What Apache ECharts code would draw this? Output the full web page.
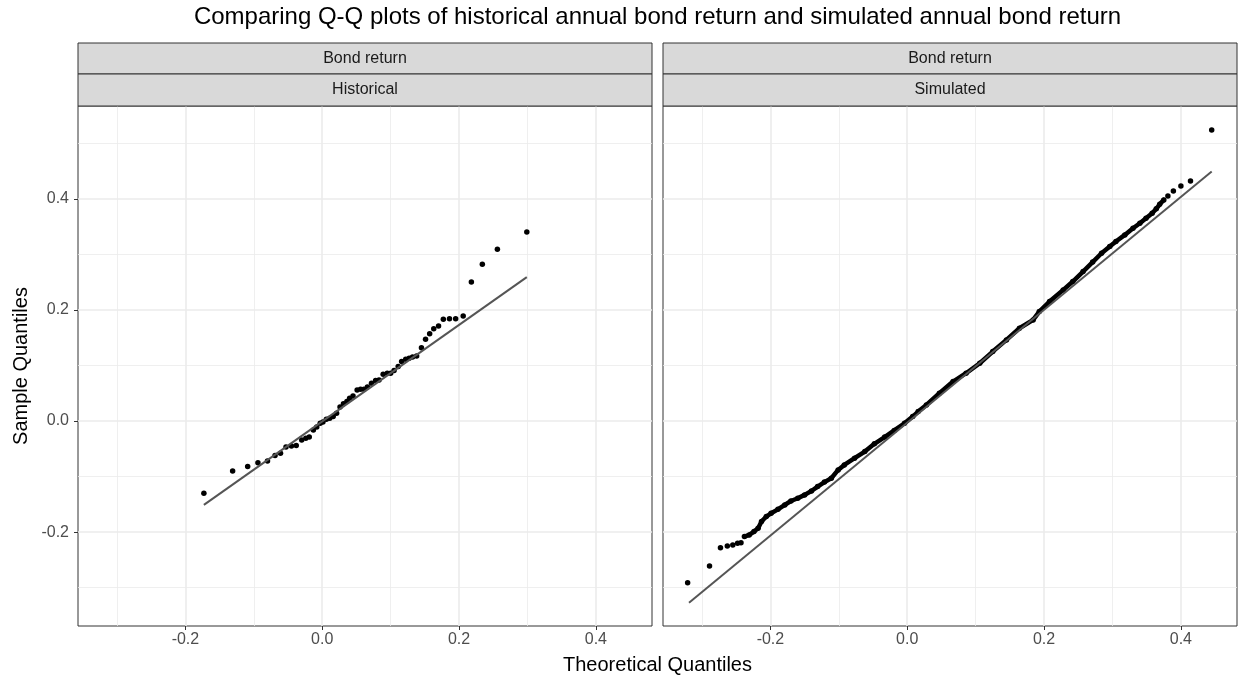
<!DOCTYPE html>
<html>
<head>
<meta charset="utf-8">
<script src="https://cdn.jsdelivr.net/npm/echarts@6/dist/echarts.min.js"></script>
<style>
html,body{margin:0;padding:0;background:#fff;}
#chart{width:1238px;height:677px;}
</style>
</head>
<body>
<div id="chart"></div>
<script>
// ---------------- data ----------------
const panelNames = ['Historical', 'Simulated'];
const stripTop = 'Bond return';
const chartTitle = 'Comparing Q-Q plots of historical annual bond return and simulated annual bond return';
const xTitle = 'Theoretical Quantiles';
const yTitle = 'Sample Quantiles';

const xTicks = [-0.2, 0.0, 0.2, 0.4];
const yTicks = [-0.2, 0.0, 0.2, 0.4];
const xMinor = [-0.3, -0.1, 0.1, 0.3];
const yMinor = [-0.3, -0.1, 0.1, 0.3, 0.5];
const xRange = [-0.357, 0.482];
const yRange = [-0.369, 0.567];

const histX = [-0.173,-0.131,-0.109,-0.094,-0.080,-0.069,-0.061,-0.053,-0.045,-0.038,
  -0.030,-0.024,-0.019,-0.013,-0.008,-0.003,0.001,0.006,0.011,0.016,
  0.021,0.026,0.031,0.036,0.040,0.045,0.051,0.056,0.061,0.066,
  0.072,0.078,0.083,0.089,0.095,0.100,0.105,0.111,0.116,0.122,
  0.127,0.132,0.138,0.145,0.151,0.157,0.163,0.170,0.177,0.186,
  0.195,0.206,0.218,0.234,0.256,0.299];
const histY = [-0.130,-0.090,-0.082,-0.075,-0.072,-0.062,-0.058,-0.047,-0.045,-0.044,
  -0.034,-0.031,-0.029,-0.016,-0.011,-0.004,-0.002,0.003,0.005,0.008,
  0.014,0.025,0.031,0.035,0.041,0.045,0.056,0.057,0.057,0.061,
  0.068,0.073,0.074,0.084,0.086,0.086,0.091,0.098,0.107,0.111,
  0.113,0.115,0.117,0.132,0.147,0.157,0.166,0.171,0.183,0.184,
  0.184,0.189,0.250,0.282,0.309,0.340];
const histLineX = [-0.173, 0.299];
const histLineY = [-0.151, 0.259];

const simX = [-0.321,-0.289,-0.273,-0.263,-0.255,-0.248,-0.243,-0.238,-0.231,-0.224,
  -0.218,-0.213,-0.206,-0.199,-0.189,-0.179,-0.170,-0.160,-0.150,-0.140,
  -0.131,-0.121,-0.111,-0.101,-0.092,-0.077,-0.062,-0.048,-0.033,-0.019,
  -0.004,0.008,0.016,0.028,0.047,0.067,0.086,0.106,0.125,0.145,
  0.164,0.184,0.193,0.208,0.228,0.242,0.257,0.271,0.284,0.296,
  0.305,0.318,0.330,0.340,0.349,0.358,0.364,0.369,0.375,0.381,
  0.389,0.400,0.414,0.445];
const simY = [-0.291,-0.261,-0.228,-0.225,-0.223,-0.220,-0.219,-0.208,-0.205,-0.199,
  -0.193,-0.181,-0.172,-0.166,-0.159,-0.151,-0.144,-0.139,-0.133,-0.126,
  -0.118,-0.110,-0.103,-0.088,-0.079,-0.067,-0.055,-0.041,-0.029,-0.017,
  -0.004,0.008,0.017,0.029,0.050,0.071,0.086,0.104,0.125,0.146,
  0.167,0.182,0.197,0.215,0.236,0.251,0.269,0.286,0.302,0.314,
  0.323,0.335,0.347,0.356,0.365,0.374,0.382,0.390,0.398,0.405,
  0.414,0.423,0.432,0.524];
const simLineX = [-0.319, 0.445];
const simLineY = [-0.327, 0.449];
// range of theoretical quantiles where the simulated points overlap into a solid band
const simBandRange = [-0.238, 0.375];

// ---------------- layout ----------------
const FONT = '"Liberation Sans", Arial, sans-serif';
const G = [
  {left: 78, top: 106, width: 574, height: 520},
  {left: 663, top: 106, width: 574, height: 520}
];
const zip = (a, b) => a.map((v, i) => [v, b[i]]);

const grids = G.map(g => ({
  left: g.left, top: g.top, width: g.width, height: g.height,
  show: true, borderColor: '#333333', borderWidth: 1, backgroundColor: '#ffffff', z: 0
}));

const fmt = v => (Math.abs(v) < 1e-9 ? 0 : v).toFixed(1);
const isTick = (v, ticks) => ticks.some(t => Math.abs(t - v) < 1e-6);

const xAxes = G.map((g, i) => ({
  type: 'value', gridIndex: i, min: xRange[0], max: xRange[1], splitNumber: 4,
  axisLine: {show: false, onZero: false},
  axisTick: {show: true, length: 4, customValues: xTicks, lineStyle: {color: '#333333', width: 1}},
  axisLabel: {show: true, margin: 6, customValues: xTicks, color: '#4d4d4d', fontSize: 16, fontFamily: FONT,
    formatter: v => isTick(v, xTicks) ? fmt(v) : ''},
  splitLine: {show: true, lineStyle: {color: '#ebebeb', width: 1.6}}
}));
const yAxes = G.map((g, i) => ({
  type: 'value', gridIndex: i, min: yRange[0], max: yRange[1], splitNumber: 4,
  axisLine: {show: false, onZero: false},
  axisTick: {show: i === 0, length: 4, customValues: yTicks, lineStyle: {color: '#333333', width: 1}},
  axisLabel: {show: i === 0, margin: 9, customValues: yTicks, color: '#4d4d4d', fontSize: 16, fontFamily: FONT,
    formatter: v => isTick(v, yTicks) ? fmt(v) : ''},
  splitLine: {show: true, lineStyle: {color: '#ebebeb', width: 1.6}},
  name: i === 0 ? yTitle : '', nameLocation: 'middle', nameGap: 47,
  nameTextStyle: {color: '#000000', fontSize: 20, fontFamily: FONT}
}));

const series = [];
[0, 1].forEach(i => {
  // minor grid lines
  series.push({
    type: 'line', xAxisIndex: i, yAxisIndex: i, data: [], z: 1, silent: true,
    markLine: {
      silent: true, symbol: 'none', label: {show: false}, animation: false, z: 1,
      lineStyle: {color: '#ebebeb', width: 0.8, type: 'solid'},
      emphasis: {disabled: true},
      data: xMinor.map(v => ({xAxis: v})).concat(yMinor.map(v => ({yAxis: v})))
    }
  });
});

// historical points
series.push({
  type: 'scatter', xAxisIndex: 0, yAxisIndex: 0, symbol: 'circle', symbolSize: 5.5,
  itemStyle: {color: '#000000', opacity: 1}, z: 3, data: zip(histX, histY)
});
// simulated dense band (overlapping points)
const bandPts = zip(simX, simY).filter(p => p[0] >= simBandRange[0] && p[0] <= simBandRange[1]);
series.push({
  type: 'line', xAxisIndex: 1, yAxisIndex: 1, showSymbol: false, z: 3,
  lineStyle: {color: '#000000', width: 4.5, cap: 'round', join: 'round'}, data: bandPts
});
// simulated points
series.push({
  type: 'scatter', xAxisIndex: 1, yAxisIndex: 1, symbol: 'circle', symbolSize: 5.5,
  itemStyle: {color: '#000000', opacity: 1}, z: 3, data: zip(simX, simY)
});
// reference lines
series.push({
  type: 'line', xAxisIndex: 0, yAxisIndex: 0, showSymbol: false, z: 4,
  lineStyle: {color: '#555555', width: 2}, data: zip(histLineX, histLineY)
});
series.push({
  type: 'line', xAxisIndex: 1, yAxisIndex: 1, showSymbol: false, z: 4,
  lineStyle: {color: '#555555', width: 2}, data: zip(simLineX, simLineY)
});

// strips
const graphics = [];
G.forEach((g, i) => {
  const rows = [[43, 31, stripTop], [74, 32, panelNames[i]]];
  rows.forEach(r => {
    graphics.push({
      type: 'rect', shape: {x: g.left, y: r[0], width: g.width, height: r[1]},
      style: {fill: '#d9d9d9', stroke: '#333333', lineWidth: 1}, z: 10
    });
    graphics.push({
      type: 'text', x: g.left + g.width / 2, y: r[0] + r[1] / 2, z: 11,
      style: {text: r[2], fill: '#1a1a1a', font: '16px ' + FONT, align: 'center', verticalAlign: 'middle'}
    });
  });
});
graphics.push({
  type: 'text', x: (G[0].left + G[1].left + G[1].width) / 2, y: 665, z: 11,
  style: {text: xTitle, fill: '#000000', font: '20px ' + FONT, align: 'center', verticalAlign: 'middle'}
});
graphics.push({
  type: 'text', x: (G[0].left + G[1].left + G[1].width) / 2, y: 17, z: 11,
  style: {text: chartTitle, fill: '#000000', font: '24px ' + FONT, align: 'center', verticalAlign: 'middle'}
});

const chart = echarts.init(document.getElementById('chart'), null, {renderer: 'canvas'});
chart.setOption({
  animation: false,
  backgroundColor: '#ffffff',
  grid: grids,
  xAxis: xAxes,
  yAxis: yAxes,
  series: series,
  graphic: graphics
});
</script>
</body>
</html>
